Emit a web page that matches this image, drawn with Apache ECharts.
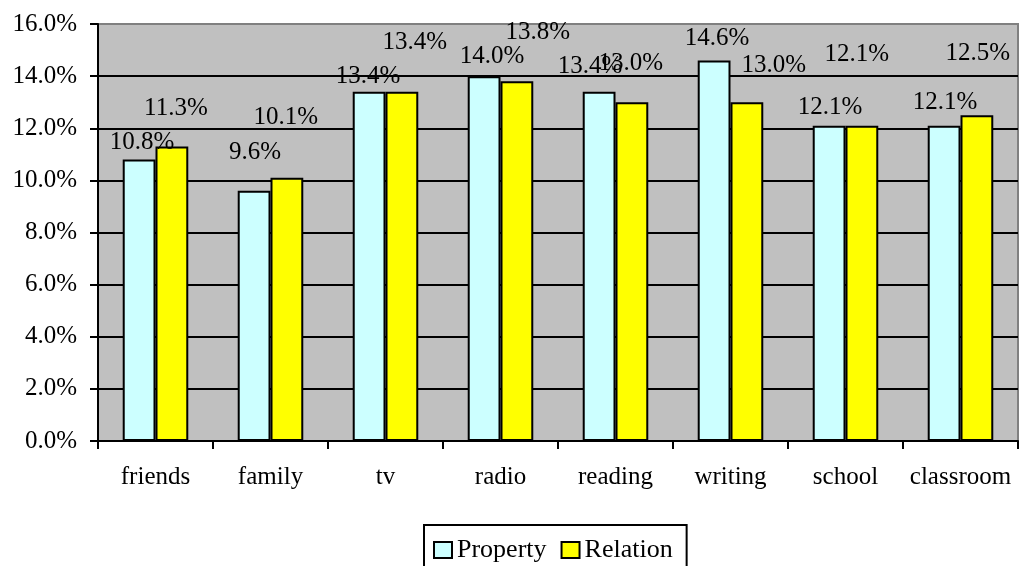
<!DOCTYPE html>
<html>
<head>
<meta charset="utf-8">
<script src="https://cdn.jsdelivr.net/npm/echarts@6/dist/echarts.min.js"></script>
<style>
html,body{margin:0;padding:0;background:#fff;}
#chart{width:1023px;height:566px;}
</style>
</head>
<body>
<div id="chart"></div>
<script>
var categories = ['friends', 'family', 'tv', 'radio', 'reading', 'writing', 'school', 'classroom'];
var propertyValues = [10.8, 9.6, 13.4, 14.0, 13.4, 14.6, 12.1, 12.1];
var relationValues = [11.3, 10.1, 13.4, 13.8, 13.0, 13.0, 12.1, 12.5];
var seriesNames = ['Property', 'Relation'];

// label nudges (pixels) reproducing the reference's label placement
var propertyLabelNudge = [[3,-17],[1,-38],[-1,-15],[8,-20],[-9,-25],[3,-22],[1,-18],[1,-23]];
var relationLabelNudge = [[4,-38],[-1,-60],[13,-49],[21,-49],[-1,-39],[27,-37],[-5,-71],[1,-62]];

var FONT = 'Liberation Serif';

function buildData(values, nudges) {
  return values.map(function (v, i) {
    return { value: v, label: { offset: nudges[i] } };
  });
}

var chart = echarts.init(document.getElementById('chart'), null, { renderer: 'canvas' });
var gridColors = ['#000','#000','#000','#000','#000','#000','#000','#000','#808080'];

var option = {
  animation: false,
  backgroundColor: '#fff',
  grid: {
    left: 98, right: 5, top: 24, bottom: 125,
    show: true, backgroundColor: '#C0C0C0', borderColor: '#808080', borderWidth: 2
  },
  legend: {
    data: seriesNames,
    left: 424, top: 525,
    icon: 'rect', itemWidth: 18, itemHeight: 16, itemGap: 14,
    borderColor: '#000', borderWidth: 2,
    padding: [12, 14, 20, 9],
    textStyle: { fontFamily: FONT, fontSize: 26, color: '#000' }
  },
  xAxis: {
    type: 'category',
    data: categories,
    axisLine: { lineStyle: { color: '#000', width: 2 } },
    axisTick: { show: true, length: 8, lineStyle: { color: '#000', width: 2 } },
    axisLabel: { fontFamily: FONT, fontSize: 25, color: '#000', margin: 24, interval: 0 }
  },
  yAxis: {
    type: 'value',
    min: 0, max: 16, interval: 2,
    axisLine: { show: true, lineStyle: { color: '#000', width: 2 } },
    axisTick: { show: true, length: 8, lineStyle: { color: '#000', width: 2 } },
    axisLabel: {
      fontFamily: FONT, fontSize: 25, color: '#000', margin: 21,
      formatter: function (v) { return v.toFixed(1) + '%'; }
    },
    splitLine: { show: true, lineStyle: { color: gridColors, width: 2 } }
  },
  series: [
    {
      name: seriesNames[0], type: 'bar',
      data: buildData(propertyValues, propertyLabelNudge),
      barGap: '0%', barCategoryGap: '43%',
      itemStyle: { color: '#CCFFFF', borderColor: '#000', borderWidth: 2 },
      label: {
        show: true, position: 'top', distance: 0, verticalAlign: 'middle',
        fontFamily: FONT, fontSize: 25, color: '#000',
        formatter: function (p) { return p.value.toFixed(1) + '%'; }
      }
    },
    {
      name: seriesNames[1], type: 'bar',
      data: buildData(relationValues, relationLabelNudge),
      barGap: '0%', barCategoryGap: '43%',
      itemStyle: { color: '#FFFF00', borderColor: '#000', borderWidth: 2 },
      label: {
        show: true, position: 'top', distance: 0, verticalAlign: 'middle',
        fontFamily: FONT, fontSize: 25, color: '#000',
        formatter: function (p) { return p.value.toFixed(1) + '%'; }
      }
    }
  ]
};
chart.setOption(option);
</script>
</body>
</html>
